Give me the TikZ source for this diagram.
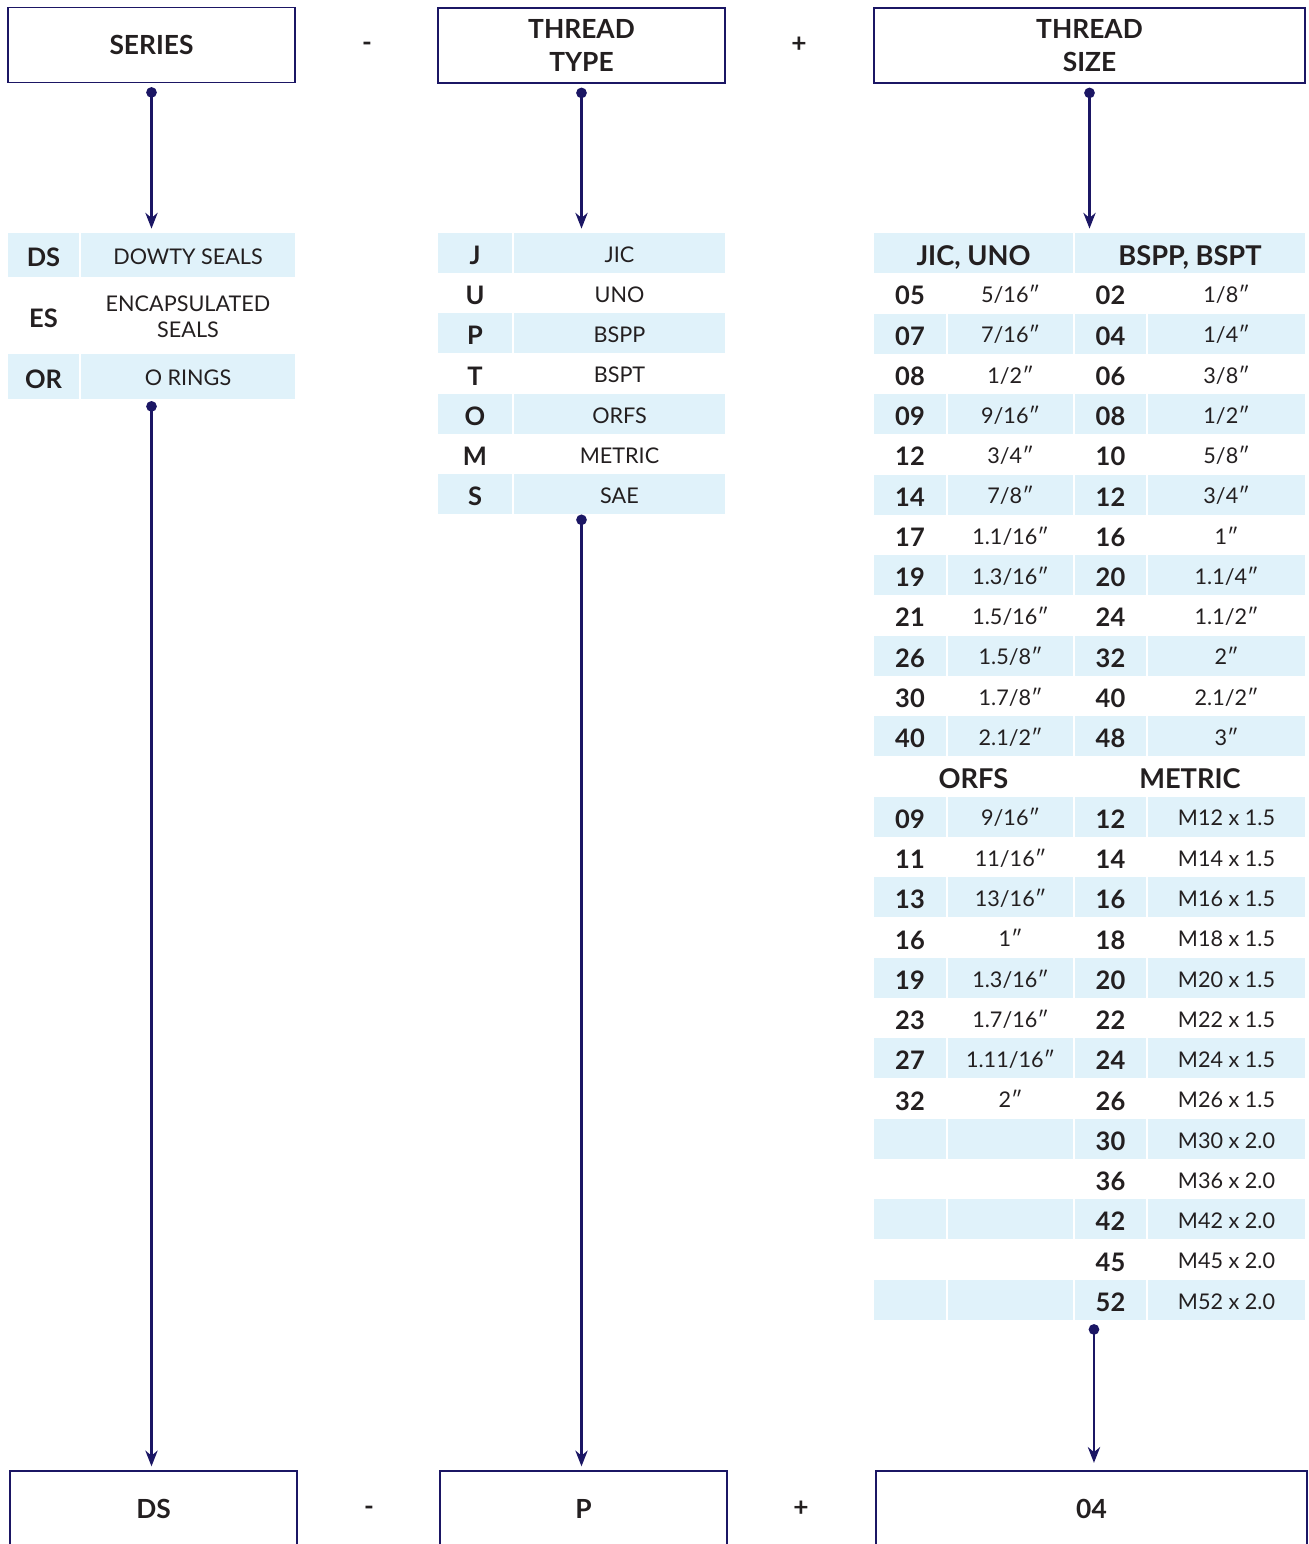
\documentclass[tikz,border=0pt]{standalone}
\usepackage{fontspec}
\setmainfont{Lato}
\usetikzlibrary{arrows.meta}

\definecolor{navy}{RGB}{27,22,100}
\definecolor{paleblue}{RGB}{224,242,250}
\definecolor{ink}{RGB}{35,31,32}

\newcommand{\hdfont}{\fontsize{15}{18.6}\selectfont\bfseries}
\newcommand{\thfont}{\fontsize{15.5}{18}\selectfont\bfseries}
\newcommand{\cdfont}{\fontsize{14.5}{17}\selectfont\bfseries}
\newcommand{\txfont}{\fontsize{12.3}{14.8}\selectfont}

\begin{document}
\begin{tikzpicture}[x=0.02cm, y=-0.02cm,
    box/.style={draw=navy, line width=0.7pt, minimum height=1.5cm, inner sep=0pt,
        align=center, text=ink, font=\hdfont},
    sign/.style={text=ink, font=\hdfont, inner sep=0pt},
    cell/.style={inner sep=0pt, minimum height=0.8cm, text=ink, text depth=0pt},
    code/.style={cell, font=\cdfont, text height=13.2pt},
    thead/.style={cell, font=\thfont, text height=14pt},
    desc/.style={cell, font=\txfont, text height=10.6pt},
    conn/.style={navy, line width=1.3pt, {Circle[length=6pt]}-{Stealth[length=9pt, width=7pt]},
        shorten <=2.3pt, shorten >=2.3pt}]

    \useasboundingbox (0,0) rectangle (1308,1544);

    % Top boxes
    \node[box, minimum width=5.74cm] (series) at (151.5,45) {SERIES};
    \node[sign] (sign1) at (367,47) {-};
    \node[box, minimum width=5.74cm] (ttype) at (581.5,45.5) {THREAD\\TYPE};
    \node[sign] (sign2) at (799,45) {+};
    \node[box, minimum width=8.62cm] (tsize) at (1089.5,45.5) {THREAD\\SIZE};

    % Series table
    \node[code, fill=paleblue, minimum width=1.42cm, minimum height=0.88cm] (dscode) at (43.5,255) {DS};
    \node[desc, fill=paleblue, minimum width=4.28cm, minimum height=0.88cm] (dsdesc) at (188,255) {DOWTY SEALS};
    \node[code, minimum width=1.42cm, minimum height=1.54cm] (escode) at (43.5,316) {ES};
    \node[inner sep=0pt, text=ink, font=\txfont, align=center] (esdesc) at (188,317) {ENCAPSULATED\\SEALS};
    \node[code, fill=paleblue, minimum width=1.42cm, minimum height=0.9cm] (orcode) at (43.5,376.5) {OR};
    \node[desc, fill=paleblue, minimum width=4.28cm, minimum height=0.9cm] (ordesc) at (188,376.5) {O RINGS};

    % Thread type table
    \foreach \i/\cd/\nm in {0/J/JIC, 1/U/UNO, 2/P/BSPP, 3/T/BSPT, 4/O/ORFS, 5/M/METRIC, 6/S/SAE} {
        \ifodd\i\def\fc{white}\else\def\fc{paleblue}\fi
        \node[code, fill=\fc, minimum width=1.48cm] (tc\i) at (475,{253+\i*40.2}) {\cd};
        \node[desc, fill=\fc, minimum width=4.22cm] (td\i) at (619.5,{253+\i*40.2}) {\nm};
    }

    % Thread size table
    \node[thead, fill=paleblue, minimum width=3.98cm] (hjic) at (973.5,253) {JIC, UNO};
    \node[thead, fill=paleblue, minimum width=4.6cm] (hbsp) at (1190,253) {BSPP, BSPT};
    \node[thead] (horfs) at (973.5,{253+13*40.26}) {ORFS};
    \node[thead] (hmet) at (1190,{253+13*40.26}) {METRIC};
    \foreach \i/\ca/\va/\cb/\vb in {
        1/05/{5/16″}/02/{1/8″}, 2/07/{7/16″}/04/{1/4″}, 3/08/{1/2″}/06/{3/8″},
        4/09/{9/16″}/08/{1/2″}, 5/12/{3/4″}/10/{5/8″}, 6/14/{7/8″}/12/{3/4″},
        7/17/{1.1/16″}/16/{1″}, 8/19/{1.3/16″}/20/{1.1/4″}, 9/21/{1.5/16″}/24/{1.1/2″},
        10/26/{1.5/8″}/32/{2″}, 11/30/{1.7/8″}/40/{2.1/2″}, 12/40/{2.1/2″}/48/{3″},
        14/09/{9/16″}/12/{M12 x 1.5}, 15/11/{11/16″}/14/{M14 x 1.5},
        16/13/{13/16″}/16/{M16 x 1.5}, 17/16/{1″}/18/{M18 x 1.5},
        18/19/{1.3/16″}/20/{M20 x 1.5}, 19/23/{1.7/16″}/22/{M22 x 1.5},
        20/27/{1.11/16″}/24/{M24 x 1.5}, 21/32/{2″}/26/{M26 x 1.5},
        22/{}/{}/30/{M30 x 2.0}, 23/{}/{}/36/{M36 x 2.0}, 24/{}/{}/42/{M42 x 2.0},
        25/{}/{}/45/{M45 x 2.0}, 26/{}/{}/52/{M52 x 2.0}} {
        \ifodd\i\def\fc{white}\else\def\fc{paleblue}\fi
        \node[code, fill=\fc, minimum width=1.44cm] (sa\i) at (910,{253+\i*40.26}) {\ca};
        \node[desc, fill=\fc, minimum width=2.5cm] (sb\i) at (1010.5,{253+\i*40.26}) {\va};
        \node[code, fill=\fc, minimum width=1.42cm] (sc\i) at (1110.5,{253+\i*40.26}) {\cb};
        \node[desc, fill=\fc, minimum width=3.14cm] (sd\i) at (1226.5,{253+\i*40.26}) {\vb};
    }

    % Bottom boxes
    \node[box, minimum width=5.74cm] (outseries) at (153.5,1508.5) {DS};
    \node[sign] (sign3) at (369,1511) {-};
    \node[box, minimum width=5.74cm] (outtype) at (583.5,1508.5) {P};
    \node[sign] (sign4) at (801,1509) {+};
    \node[box, minimum width=8.62cm] (outsize) at (1091.5,1508.5) {04};

    % Connectors
    \draw[conn] (series.south) -- (series.south |- dsdesc.north);
    \draw[conn] (ttype.south) -- (ttype.south |- td0.north);
    \draw[conn] (tsize.south) -- (tsize.south |- hjic.north);
    \draw[conn, shorten <=1pt] (series.south |- ordesc.south) -- (series.south |- outseries.north);
    \draw[conn, shorten <=0pt] (ttype.south |- td6.south) -- (ttype.south |- outtype.north);
    \draw[conn] ([xshift=1.4pt]outsize.north |- sc26.south) -- ([xshift=1.4pt, yshift=2pt]outsize.north);

\end{tikzpicture}
\end{document}
